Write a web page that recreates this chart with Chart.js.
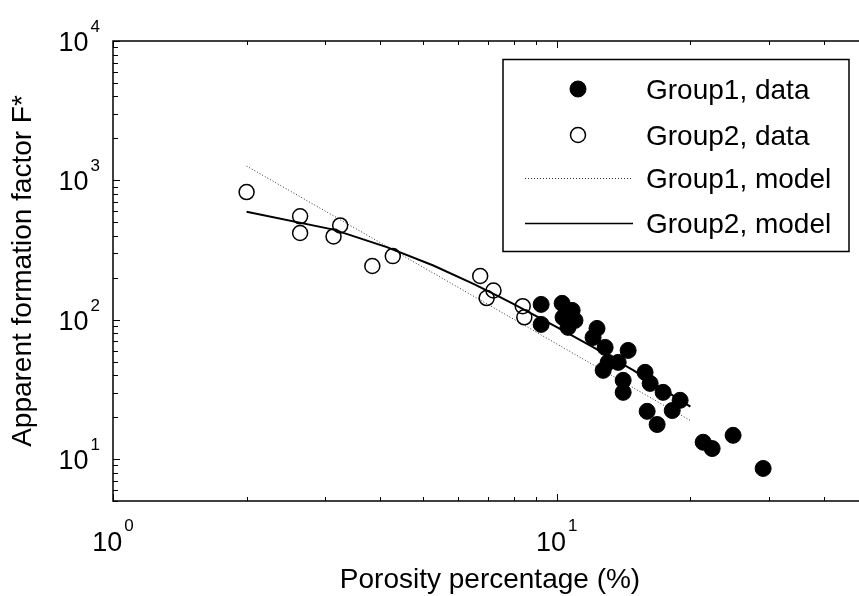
<!DOCTYPE html>
<html>
<head>
<meta charset="utf-8">
<script src="https://cdn.jsdelivr.net/npm/chart.js@4.4.1/dist/chart.umd.min.js"></script>
<style>
  html, body { margin: 0; padding: 0; background: #fff; overflow: hidden; }
  #porosityChart { width: 859px; height: 596px; display: block; }
</style>
</head>
<body>
<canvas id="porosityChart" width="859" height="596"></canvas>
<script>
// values: porosity (%) and apparent formation factor F*
const group1Porosity = [9.22, 9.22, 10.28, 10.83, 10.99, 10.33, 10.6, 12.32, 12.07, 12.85,
  14.48, 13.05, 12.72, 13.75, 14.11, 14.11, 15.81, 16.23, 17.36, 18.96,
  18.2, 15.98, 16.83, 21.37, 22.39, 24.96, 29.17];
const group1Factor = [128.8, 92.5, 131, 116.6, 98.8, 103.9, 88.1, 86.6, 74.6, 63.3,
  60.2, 49.4, 43.3, 49.4, 36.7, 30.1, 41.9, 34.9, 30.1, 26.4,
  22.3, 22.0, 17.7, 13.2, 11.9, 14.8, 8.56];

const group2Porosity = [2.0, 2.64, 2.64, 3.25, 3.14, 3.84, 4.27, 6.72, 7.2, 6.95, 8.38, 8.45];
const group2Factor = [824, 552, 419, 475, 396, 243, 286, 206, 162, 143, 125, 104];

const model1Porosity = [2.0, 20.0];
const model1Factor = [1267, 18.9];

const model2Porosity = [2.0, 3.14, 4.14, 5.27, 6.49, 7.45, 7.98, 10.0, 12.07, 14.89, 20.0];
const model2Factor = [596, 443, 332, 245, 181, 145, 130, 88.5, 63.6, 43.3, 23.8];

const seriesLabels = ['Group1, data', 'Group2, data', 'Group1, model', 'Group2, model'];

// tick labels are 10^n
const xDecades = [0, 1];
const yDecades = [1, 2, 3, 4];

const FONT = "'Liberation Sans', Arial, Helvetica, sans-serif";
Chart.defaults.font.family = FONT;
Chart.defaults.color = '#000';

const toPoints = (xs, ys) => xs.map((x, i) => ({ x: x, y: ys[i] }));

function line(ctx, x1, y1, x2, y2) {
  ctx.beginPath();
  ctx.moveTo(x1, y1);
  ctx.lineTo(x2, y2);
  ctx.stroke();
}

// values m*10^d that fall inside the scale
function logTicks(scale) {
  const out = [];
  const lo = Math.floor(Math.log10(scale.min));
  const hi = Math.ceil(Math.log10(scale.max));
  for (let d = lo; d <= hi; d++) {
    for (let m = 1; m <= 9; m++) {
      const v = m * Math.pow(10, d);
      if (v >= scale.min - 1e-9 && v <= scale.max + 1e-9) out.push({ v: v, major: m === 1 });
    }
  }
  return out;
}

// the original plot is cut off on the right: let the x axis run a little past the canvas
const cropRight = {
  id: 'cropRight',
  afterLayout(chart) {
    const a = chart.chartArea;
    const x = chart.scales.x;
    a.right = chart.width + 8;
    a.width = a.right - a.left;
    x.right = a.right;
    x.width = x.right - x.left;
    x.configure();
  }
};

// boxed axes with inward ticks, 10^n labels and the legend, MATLAB style
const matlabAxes = {
  id: 'matlabAxes',
  afterDraw(chart) {
    const { ctx, chartArea: a, scales: { x, y } } = chart;
    ctx.save();
    ctx.strokeStyle = '#000';
    ctx.fillStyle = '#000';

    ctx.lineWidth = 1;
    logTicks(x).forEach(t => {
      const px = Math.round(x.getPixelForValue(t.v)) + 0.5;
      const len = t.major ? 7 : 4;
      line(ctx, px, a.bottom, px, a.bottom - len);
      line(ctx, px, a.top, px, a.top + len);
    });
    logTicks(y).forEach(t => {
      const py = Math.round(y.getPixelForValue(t.v)) + 0.5;
      const len = t.major ? 7 : 5;
      line(ctx, a.left, py, a.left + len, py);
      line(ctx, a.right, py, a.right - len, py);
    });

    ctx.lineWidth = 1.5;
    ctx.strokeRect(a.left, a.top, a.right - a.left, a.bottom - a.top);

    // tick labels
    const big = '27px ' + FONT;
    const small = '17px ' + FONT;
    ctx.textBaseline = 'alphabetic';
    ctx.textAlign = 'left';
    xDecades.forEach(d => {
      const px = x.getPixelForValue(Math.pow(10, d));
      ctx.font = big;
      const w1 = ctx.measureText('10').width;
      ctx.font = small;
      const w2 = ctx.measureText(String(d)).width;
      const start = px - (w1 + 2 + w2) / 2;
      ctx.font = big;
      ctx.fillText('10', start, a.bottom + 50);
      ctx.font = small;
      ctx.fillText(String(d), start + w1 + 2, a.bottom + 30);
    });
    yDecades.forEach(d => {
      const py = y.getPixelForValue(Math.pow(10, d));
      ctx.font = small;
      const w2 = ctx.measureText(String(d)).width;
      const expLeft = a.left - 13 - w2;
      ctx.fillText(String(d), expLeft, py - 9);
      ctx.font = big;
      ctx.textAlign = 'right';
      ctx.fillText('10', expLeft - 2, py + 10);
      ctx.textAlign = 'left';
    });

    // legend
    const box = { left: 503, top: 59.5, right: 849, bottom: 251.5 };
    ctx.fillStyle = '#fff';
    ctx.fillRect(box.left, box.top, box.right - box.left, box.bottom - box.top);
    ctx.strokeStyle = '#000';
    ctx.lineWidth = 1.5;
    ctx.strokeRect(box.left, box.top, box.right - box.left, box.bottom - box.top);

    const rows = [89, 135, 178, 223];
    ctx.font = '28px ' + FONT;
    chart.data.datasets.forEach((ds, i) => {
      const ry = rows[i];
      if (ds.showLine) {
        ctx.strokeStyle = ds.borderColor;
        ctx.lineWidth = ds.legendLineWidth;
        ctx.setLineDash(ds.borderDash || []);
        line(ctx, 525, ry + 0.5, 633, ry + 0.5);
        ctx.setLineDash([]);
      } else {
        ctx.beginPath();
        ctx.arc(578, ry, ds.pointRadius, 0, Math.PI * 2);
        ctx.fillStyle = ds.pointBackgroundColor;
        ctx.fill();
        ctx.strokeStyle = ds.pointBorderColor;
        ctx.lineWidth = ds.pointBorderWidth;
        ctx.stroke();
      }
      ctx.fillStyle = '#000';
      ctx.fillText(ds.label, 646, ry + 10);
    });
    ctx.restore();
  }
};

new Chart(document.getElementById('porosityChart'), {
  type: 'scatter',
  data: {
    datasets: [
      {
        label: seriesLabels[0],
        data: toPoints(group1Porosity, group1Factor),
        pointRadius: 8,
        pointBackgroundColor: '#000',
        pointBorderColor: '#000',
        pointBorderWidth: 1,
        order: 0
      },
      {
        label: seriesLabels[1],
        data: toPoints(group2Porosity, group2Factor),
        pointRadius: 7.5,
        pointBackgroundColor: 'rgba(0,0,0,0)',
        pointBorderColor: '#000',
        pointBorderWidth: 1.5,
        order: 1
      },
      {
        label: seriesLabels[2],
        data: toPoints(model1Porosity, model1Factor),
        showLine: true,
        borderColor: '#333',
        borderWidth: 1,
        legendLineWidth: 1,
        borderDash: [1, 2],
        pointRadius: 0,
        order: 3
      },
      {
        label: seriesLabels[3],
        data: toPoints(model2Porosity, model2Factor),
        showLine: true,
        borderColor: '#000',
        borderWidth: 2,
        legendLineWidth: 1.5,
        pointRadius: 0,
        tension: 0,
        order: 2
      }
    ]
  },
  options: {
    responsive: false,
    animation: false,
    events: [],
    layout: { autoPadding: false, padding: { top: 41, right: 0, left: 0, bottom: 0 } },
    plugins: {
      legend: { display: false },
      tooltip: { enabled: false }
    },
    scales: {
      x: {
        type: 'logarithmic',
        min: 1,
        max: 50,
        grid: { display: false },
        border: { display: false },
        ticks: { display: false },
        title: {
          display: true,
          text: 'Porosity percentage (%)',
          font: { size: 28, lineHeight: 1.1 },
          padding: { top: 0, bottom: 0 }
        },
        afterFit: s => { s.height = 95; }
      },
      y: {
        type: 'logarithmic',
        min: 5,
        max: 10000,
        grid: { display: false },
        border: { display: false },
        ticks: { display: false },
        title: {
          display: true,
          text: 'Apparent formation factor F*',
          font: { size: 28, lineHeight: 1.2 },
          padding: { top: 6, bottom: 0 }
        },
        afterFit: s => { s.width = 113; }
      }
    }
  },
  plugins: [cropRight, matlabAxes]
});
</script>
</body>
</html>
